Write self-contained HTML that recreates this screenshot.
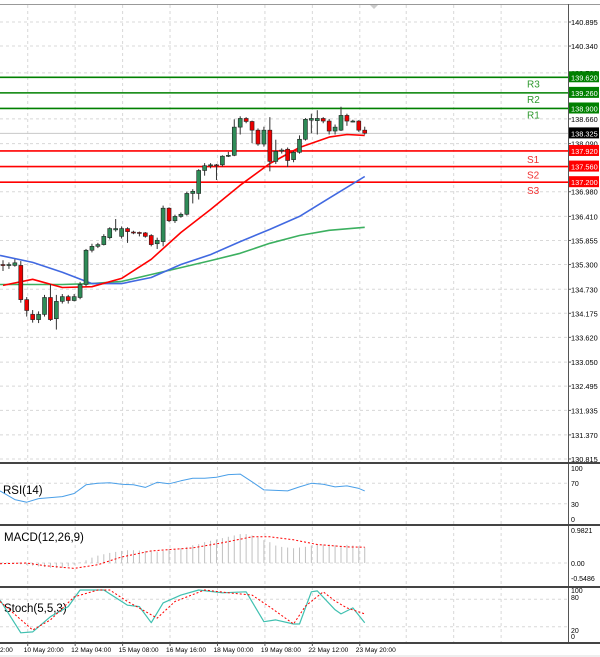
<!DOCTYPE html>
<html><head><meta charset="utf-8">
<style>
html,body{margin:0;padding:0;background:#fff;}
svg{display:block;font-family:"Liberation Sans",sans-serif;}
</style></head>
<body>
<svg id="chart" width="600" height="657" viewBox="0 0 600 657" xmlns="http://www.w3.org/2000/svg"></svg>
<script>
// ---------- data ----------
const opens  = [135.30,135.28,135.28,135.28,134.49,134.15,134.03,134.15,134.54,134.05,134.45,134.56,134.47,134.54,134.84,135.63,135.72,135.76,135.92,136.10,135.95,136.13,136.05,136.04,136.03,135.97,135.78,135.83,136.60,136.31,136.41,136.46,136.94,136.94,137.47,137.58,137.60,137.60,137.80,137.82,138.47,138.67,138.60,138.40,138.08,138.40,137.68,137.92,137.96,137.72,137.89,138.19,138.63,138.62,138.67,138.61,138.38,138.40,138.74,138.61,138.61,138.40];
const closes = [135.28,135.30,135.34,134.49,134.24,134.03,134.15,134.54,134.03,134.45,134.56,134.47,134.56,134.84,135.63,135.72,135.76,135.95,136.13,136.13,136.13,136.06,136.04,136.03,135.95,135.76,135.86,136.60,136.31,136.41,136.46,136.94,136.99,137.47,137.58,137.60,137.58,137.80,137.82,138.47,138.67,138.60,138.40,138.08,138.40,137.68,137.91,137.94,137.70,137.89,138.19,138.65,138.67,138.67,138.61,138.38,138.47,138.74,138.61,138.61,138.40,138.33];
const highs  = [135.40,135.35,135.42,135.38,134.55,134.25,134.22,134.60,134.85,134.60,134.62,134.60,134.62,134.90,135.66,135.78,135.80,136.00,136.16,136.35,136.18,136.16,136.08,136.06,136.05,136.00,135.92,136.66,136.62,136.45,136.50,136.98,137.04,137.50,137.64,137.64,137.62,137.82,137.90,138.65,138.72,138.70,138.62,138.44,138.48,138.70,138.18,137.98,138.00,137.92,138.28,138.68,138.78,138.86,138.70,138.66,138.53,138.94,138.78,138.64,138.63,138.48];
const lows   = [135.15,135.20,135.25,134.42,134.10,133.96,133.95,134.10,134.00,133.80,134.40,134.40,134.45,134.50,134.80,135.58,135.68,135.74,135.88,136.06,135.90,135.80,136.00,135.95,135.92,135.72,135.66,135.72,136.28,136.26,136.38,136.43,136.71,136.80,137.35,137.52,137.25,137.56,137.78,137.80,138.30,138.56,138.10,138.04,138.02,137.45,137.62,137.86,137.55,137.66,137.86,138.16,138.33,138.30,138.56,138.30,138.30,138.38,138.50,138.58,138.36,138.30];
const maIdx   = [0,5,10,15,20,25,30,35,40,45,50,55,58,61];
const maRed   = [134.82,134.96,134.77,134.79,134.98,135.42,136.04,136.57,137.13,137.63,138.00,138.24,138.30,138.28];
const maIdx2  = [-0.5,5,10,15,20,25,30,35,40,45,50,55,61];
const maBlue  = [135.51,135.35,135.12,134.86,134.86,135.00,135.30,135.53,135.83,136.11,136.41,136.83,137.33];
const maGreen = [134.84,134.84,134.84,134.86,134.91,135.07,135.23,135.39,135.56,135.79,135.97,136.09,136.16];
const levelNames  = ["R3","R2","R1","S1","S2","S3"];
const levelValues = [139.62,139.26,138.90,137.92,137.56,137.20];
const currentPrice = 138.325;
const priceTicks = [140.895,140.340,139.720,138.660,138.090,136.980,136.410,135.855,135.300,134.730,134.175,133.620,133.050,132.495,131.935,131.370,130.815];
const rsiIdx = [-0.5,2,4,6,8,10,12,14,16,18,20,22,24,26,28,30,32,34,36,38,40,42,44,46,48,50,52,54,56,58,60,61];
const rsiVal = [55,38,33,40,42,44,50,67,70,71,68,67,62,72,69,75,80,80,82,87,88,73,57,56,55,63,70,68,63,65,60,55];
const macdHist = [0.02,0.01,0.0,-0.04,-0.06,-0.08,-0.10,-0.12,-0.14,-0.15,-0.14,-0.10,-0.05,0.02,0.08,0.16,0.22,0.26,0.30,0.33,0.36,0.38,0.38,0.37,0.36,0.35,0.34,0.36,0.42,0.42,0.44,0.48,0.53,0.56,0.62,0.66,0.70,0.74,0.78,0.82,0.86,0.86,0.82,0.76,0.68,0.62,0.52,0.48,0.46,0.44,0.46,0.48,0.52,0.54,0.55,0.55,0.53,0.52,0.54,0.52,0.50,0.46];
const sigIdx = [-0.5,4,7,12,16,20,25,32,37,42,45,49,53,58,61];
const sigVal = [-0.02,0.0,-0.08,-0.16,-0.05,0.18,0.36,0.45,0.60,0.78,0.78,0.69,0.55,0.48,0.47];
const stochKIdx = [-0.5,3,5,8,11,13,17,21,23,25,27,30,33,37,41,44,46,49,50,52,53,56,57,59,61];
const stochKVal = [78,7,9,42,64,100,100,67,64,29,72,89,100,94,96,31,35,26,26,96,98,57,48,61,29];
const stochDIdx = [-0.5,5,8,12,16,18,21,26,29,34,38,42,45,49,51,54,56,58,61];
const stochDVal = [75,13,35,85,100,100,75,39,75,100,94,89,63,26,65,96,76,61,48];
const timeLabels = ["2:00","10 May 20:00","12 May 04:00","15 May 08:00","16 May 16:00","18 May 00:00","19 May 08:00","22 May 12:00","23 May 20:00"];
const timeIdx = [-4,4,12,20,28,36,44,52,60];

// ---------- layout ----------
const svg = document.getElementById('chart');
const NS = "http://www.w3.org/2000/svg";
const PR = 568;
function el(tag, attrs, parent){const e=document.createElementNS(NS,tag);for(const k in attrs)e.setAttribute(k,attrs[k]);(parent||svg).appendChild(e);return e;}
const xOf = i => 3 + 5.93*i;
const yP = p => 22 + (140.895 - p)*43.35;
const yRsi = v => 519 - v*0.51;
const yMacd = v => 563 - v*33.6;
const ySto = v => 636 - v*0.46;

el('rect',{x:0,y:0,width:600,height:657,fill:'#fff'});
const grid = el('g',{});


timeIdx.forEach(i=>{ if(i<0) return; el('line',{x1:xOf(i)+1,x2:xOf(i)+1,y1:5,y2:642,stroke:'#d8d8d8','stroke-dasharray':'3,3'},grid); });
[xOf(68), xOf(76), xOf(84)].forEach(x=>el('line',{x1:x,x2:x,y1:5,y2:642,stroke:'#d8d8d8','stroke-dasharray':'3,3'},grid));
priceTicks.forEach(p=>el('line',{x1:0,x2:PR,y1:yP(p),y2:yP(p),stroke:'#d8d8d8','stroke-dasharray':'3,3'},grid));
[70,30].forEach(v=>el('line',{x1:0,x2:PR,y1:yRsi(v),y2:yRsi(v),stroke:'#d8d8d8','stroke-dasharray':'3,3'},grid));
[0].forEach(v=>el('line',{x1:0,x2:PR,y1:yMacd(v),y2:yMacd(v),stroke:'#d8d8d8','stroke-dasharray':'3,3'},grid));
[80,20].forEach(v=>el('line',{x1:0,x2:PR,y1:ySto(v),y2:ySto(v),stroke:'#d8d8d8','stroke-dasharray':'3,3'},grid));

el('line',{x1:0,x2:600,y1:4.5,y2:4.5,stroke:'#999'});
el('line',{x1:PR+0.5,x2:PR+0.5,y1:4,y2:642,stroke:'#555'});
[462,524,586,642].forEach(y=>el('rect',{x:0,y:y,width:600,height:2,fill:'#444'}));
el('polygon',{points:'370,5 378,5 374,9',fill:'#ccc'});

const pa = el('g',{'font-size':'7.4',fill:'#000'});


priceTicks.forEach(p=>{ el('line',{x1:PR,x2:PR+3,y1:yP(p),y2:yP(p),stroke:'#555'},pa); const t=el('text',{x:571,y:yP(p)+3},pa); t.textContent=p.toFixed(3); });

el('line',{x1:0,x2:PR,y1:yP(currentPrice),y2:yP(currentPrice),stroke:'#c8c8c8'});

levelNames.forEach((n,k)=>{
  const v=levelValues[k]; const y=yP(v); const green=n[0]==='R'; const c=green?'#008000':'#ff0000';
  const g=el('g',{});
  
  
  el('line',{x1:0,x2:PR,y1:y,y2:y,stroke:c,'stroke-width':1.6},g);
  el('rect',{x:569,y:y-6,width:30,height:11,fill:c},g);
  const t=el('text',{x:571,y:y+3,'font-size':'7.4',fill:'#fff'},g); t.textContent=v.toFixed(3);
  const l=el('text',{x:527,y:y+(green?10:12),'font-size':'10',fill:green?'#2f9a2f':'#f03030'},g); l.textContent=n;
});
const cp=el('g',{});


el('rect',{x:569,y:yP(currentPrice)-6,width:30,height:11,fill:'#000'},cp);
el('text',{x:571,y:yP(currentPrice)+3,'font-size':'7.4',fill:'#fff'},cp).textContent=currentPrice.toFixed(3);

function poly(idx,vals,yf,color,w,dash,name){
  const p=el('polyline',{points:idx.map((i,k)=>xOf(i)+','+yf(vals[k]).toFixed(1)).join(' '),fill:'none',stroke:color,'stroke-width':w,'stroke-linejoin':'round'});
  if(dash)p.setAttribute('stroke-dasharray',dash);
  
  
  return p;
}
poly(maIdx2,maGreen,yP,'#3cb060',1.6,null,'ma-green');
poly(maIdx2,maBlue,yP,'#4169e1',1.6,null,'ma-blue');
poly(maIdx,maRed,yP,'#ff0000',1.6,null,'ma-red');

const cg=el('g',{});


opens.forEach((o,i)=>{
  const c=closes[i], x=xOf(i);
  const g=el('g',{},cg);
  
  
  el('line',{x1:x,x2:x,y1:yP(highs[i]),y2:yP(lows[i]),stroke:'#333'},g);
  const top=yP(Math.max(o,c)), bot=yP(Math.min(o,c));
  el('rect',{x:x-2,y:top,width:4,height:Math.max(1,bot-top),fill:c>=o?'#2e8b57':'#ee0000',stroke:'#222','stroke-width':0.6},g);
});

el('text',{x:3,y:494,'font-size':'11.5',fill:'#000'}).textContent='RSI(14)';
poly(rsiIdx,rsiVal,yRsi,'#4a9fe8',1,null,'rsi-line');
[[100,468],[70,483],[30,504],[0,519]].forEach(a=>el('text',{x:571,y:a[1]+3,'font-size':'7'}).textContent=a[0]);

el('text',{x:4,y:541,'font-size':'11.5',fill:'#000'}).textContent='MACD(12,26,9)';
const hg=el('g',{});


macdHist.forEach((v,i)=>{const b=el('line',{x1:xOf(i),x2:xOf(i),y1:yMacd(0),y2:yMacd(v),stroke:'#c0c0c0','stroke-width':1},hg);
  
  });
poly(sigIdx,sigVal,yMacd,'#ff0000',1,'2,2','macd-signal');
[['0.9821',530],['0.00',563],['-0.5486',578]].forEach(a=>el('text',{x:571,y:a[1]+3,'font-size':'7'}).textContent=a[0]);

el('text',{x:4,y:612,'font-size':'11.5',fill:'#000'}).textContent='Stoch(5,5,3)';
poly(stochKIdx,stochKVal,ySto,'#40c0b0',1.2,null,'stoch-k');
poly(stochDIdx,stochDVal,ySto,'#ff0000',1,'2,2','stoch-d');
[[100,590],[80,597],[20,630],[0,636]].forEach(a=>el('text',{x:571,y:a[1]+3,'font-size':'7'}).textContent=a[0]);

timeLabels.forEach((s,k)=>{const x=k===0?0:xOf(timeIdx[k])-3;
  el('line',{x1:xOf(timeIdx[k])+1,x2:xOf(timeIdx[k])+1,y1:643,y2:646,stroke:'#555'});
  const t=el('text',{x:x,y:652,'font-size':'6.6'}); t.textContent=s;});
el('rect',{x:0,y:655,width:600,height:2,fill:'#eee'});
</script>
</body></html>
